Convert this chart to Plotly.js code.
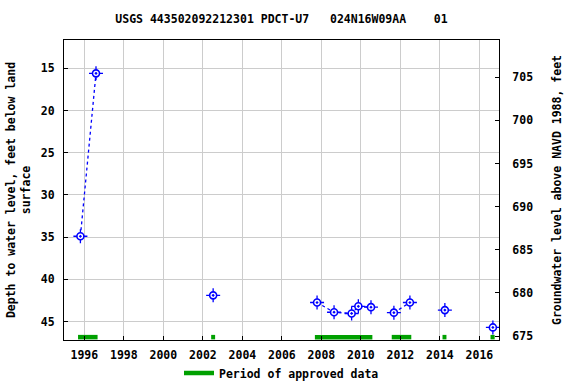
<!DOCTYPE html>
<html>
<head>
<meta charset="utf-8">
<script src="https://cdn.plot.ly/plotly-3.0.1.min.js"></script>
<style>html,body{margin:0;padding:0;background:#fff;}#chart{width:576px;height:384px;}</style>
</head>
<body>
<div id="chart"></div>
<script>
// Measurement dates (decimal years) and depth to water (ft); null = break in the line
const dates  = [1995.80, 1996.59, null, 2002.52, null, 2007.78, 2008.64, 2009.53, 2009.87, 2010.51, null, 2011.67, 2012.48, null, 2014.25, null, 2016.68];
const depths = [34.9,    15.6,    null, 41.9,    null, 42.75,   43.9,    44.05,   43.2,    43.3,    null, 43.95,   42.75,   null, 43.65,   null, 45.7];

// Periods of approved data (decimal years)
const approvedStart = [1995.68, 2002.42, 2007.67, 2011.56, 2014.13, 2016.56];
const approvedEnd   = [1996.67, 2002.62, 2010.58, 2012.55, 2014.33, 2016.77];
const approvedLevel = 46.85;

const yearTicks = [1996, 1998, 2000, 2002, 2004, 2006, 2008, 2010, 2012, 2014, 2016];
const depthTicks = [15, 20, 25, 30, 35, 40, 45];
const elevTicks = [675, 680, 685, 690, 695, 700, 705];

const title = 'USGS 443502092212301 PDCT-U7   024N16W09AA    01'.replace(/ /g, '\u00A0');

const apX = [], apY = [];
for (let i = 0; i < approvedStart.length; i++) {
  apX.push(approvedStart[i], approvedEnd[i], null);
  apY.push(approvedLevel, approvedLevel, null);
}

const blue = '#0000ff';
const green = '#00a000';
const fontFam = '"DejaVu Sans Mono", monospace';

const traces = [
  {x: apX, y: apY, mode: 'lines', line: {color: green, width: 4.5}, name: 'Period of approved data',
   showlegend: true, hoverinfo: 'skip'},
  {x: dates, y: depths, mode: 'lines+markers', connectgaps: false,
   line: {color: blue, width: 1.3, dash: 'dot'},
   marker: {symbol: 'cross-thin-open', size: 10, line: {color: blue, width: 1.3}, color: blue},
   showlegend: false},
  {x: dates, y: depths, mode: 'markers',
   marker: {symbol: 'circle-dot', size: 7, color: '#ffffff', line: {color: blue, width: 1.6}},
   showlegend: false},
  {x: [], y: [], yaxis: 'y2', mode: 'markers', showlegend: false, hoverinfo: 'skip'}
];

const layout = {
  width: 576, height: 384,
  margin: {l: 64, r: 77, t: 40, b: 44, autoexpand: false},
  paper_bgcolor: '#fff', plot_bgcolor: '#fff',
  font: {family: fontFam, size: 11.5, color: '#000', weight: 'bold'},
  title: {text: title, x: 0.5, xref: 'paper', xanchor: 'center', y: 1 - 19/384, yanchor: 'middle',
          font: {family: fontFam, size: 11.5, color: '#000', weight: 'bold'}},
  showlegend: true,
  legend: {orientation: 'h', x: 0.5, xanchor: 'center', y: -0.11, yanchor: 'middle',
           font: {family: fontFam, size: 11.5, weight: 'bold'}, bgcolor: 'rgba(0,0,0,0)'},
  xaxis: {range: [1994.97, 2016.99], autorange: false, tickvals: yearTicks, ticktext: yearTicks.map(String),
          showgrid: true, gridcolor: '#cccccc', gridwidth: 1, zeroline: false,
          showline: true, linecolor: '#000', linewidth: 1, mirror: true, automargin: false,
          ticks: 'inside', ticklen: 4, tickcolor: '#000', ticklabelstandoff: 4},
  yaxis: {range: [47.19, 11.65], autorange: false, tickvals: depthTicks, ticktext: depthTicks.map(String),
          showgrid: true, gridcolor: '#cccccc', gridwidth: 1, zeroline: false, automargin: false,
          showline: true, linecolor: '#000', linewidth: 1, mirror: true,
          ticks: 'inside', ticklen: 4, tickcolor: '#000', ticklabelstandoff: 6,
          title: {text: 'Depth to water level, feet below land<br>surface', standoff: 7,
                  font: {family: fontFam, size: 11.5, weight: 'bold'}}},
  yaxis2: {overlaying: 'y', side: 'right', range: [674.54, 709.33], autorange: false, automargin: false,
           tickvals: elevTicks, ticktext: elevTicks.map(String),
           showgrid: false, zeroline: false, showline: true, linecolor: '#000', linewidth: 1,
           ticks: 'inside', ticklen: 4, tickcolor: '#000', ticklabelstandoff: 10,
           title: {text: 'Groundwater level above NAVD 1988, feet', standoff: 20,
                   font: {family: fontFam, size: 11.5, weight: 'bold'}}}
};

Plotly.newPlot('chart', traces, layout, {staticPlot: true, displayModeBar: false});
</script>
</body>
</html>
